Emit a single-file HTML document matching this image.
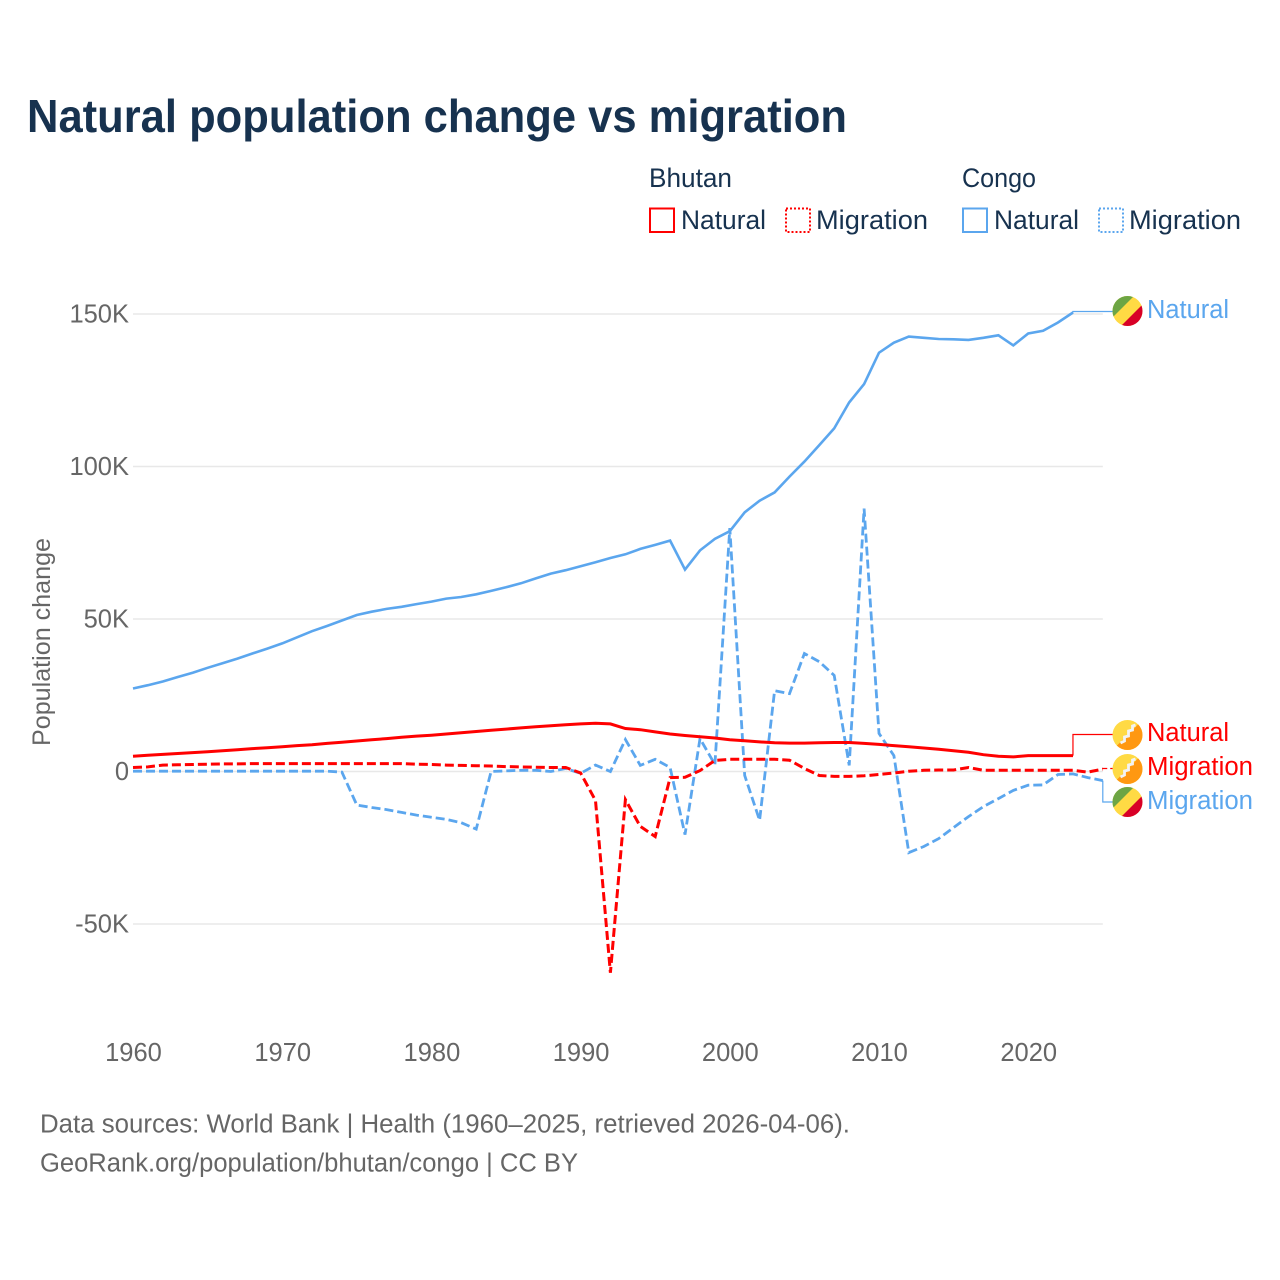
<!DOCTYPE html>
<html lang="en">
<head>
<meta charset="utf-8">
<title>Natural population change vs migration</title>
<style>
html,body{margin:0;padding:0;background:#fff;}
svg{display:block;}
text{font-family:"Liberation Sans",sans-serif;}
</style>
</head>
<body>
<svg id="chart" xmlns="http://www.w3.org/2000/svg" width="1280" height="1280" viewBox="0 0 1280 1280">
<defs>
<clipPath id="flag-clip"><circle cx="0" cy="0" r="15"/></clipPath>
</defs>
<rect x="0" y="0" width="1280" height="1280" fill="#fff"/>
<text x="27" y="132" font-size="46" font-weight="700" fill="#17324f" textLength="820" lengthAdjust="spacingAndGlyphs">Natural population change vs migration</text>

<g font-size="26.5" fill="#17324f">
<text x="649" y="187" textLength="83" lengthAdjust="spacingAndGlyphs">Bhutan</text>
<text x="962" y="187" textLength="74" lengthAdjust="spacingAndGlyphs">Congo</text>
<g>
<rect x="650" y="208.5" width="24" height="23.5" fill="none" stroke="#ff0000" stroke-width="2"/>
<text x="681" y="229" textLength="85" lengthAdjust="spacingAndGlyphs">Natural</text>
</g>
<g>
<rect x="786" y="208.5" width="24" height="23.5" fill="none" stroke="#ff0000" stroke-width="2" stroke-dasharray="2 2"/>
<text x="816" y="229" textLength="112" lengthAdjust="spacingAndGlyphs">Migration</text>
</g>
<g>
<rect x="963" y="208.5" width="24" height="23.5" fill="none" stroke="#5ba6ee" stroke-width="2"/>
<text x="994" y="229" textLength="85" lengthAdjust="spacingAndGlyphs">Natural</text>
</g>
<g>
<rect x="1099" y="208.5" width="24" height="23.5" fill="none" stroke="#5ba6ee" stroke-width="2" stroke-dasharray="2 2"/>
<text x="1129" y="229" textLength="112" lengthAdjust="spacingAndGlyphs">Migration</text>
</g>
</g>

<g id="grid"></g>
<g id="y-axis"></g>
<g id="x-axis"></g>
<text transform="translate(50,642) rotate(-90)" text-anchor="middle" font-size="25" fill="#666" textLength="208" lengthAdjust="spacingAndGlyphs">Population change</text>
<g id="series"></g>
<g id="connectors"></g>

<g transform="translate(1127.5,311)">
<g clip-path="url(#flag-clip)"><rect x="-15" y="-15" width="30" height="30" fill="#ffda44"/><polygon points="-15,6.5 6.5,-15 -15,-15" fill="#6da544"/><polygon points="15,15 15,-6.5 -6.5,15" fill="#d80027"/></g>
</g>
<g transform="translate(1127.5,735)">
<g clip-path="url(#flag-clip)"><rect x="-15" y="-15" width="30" height="30" fill="#ffda44"/><polygon points="15,-15 15,15 -15,15" fill="#ff9811"/><polyline points="-7,8 -3,6 -3,2 1,1 1,-4 5,-5 5,-9 8,-10" fill="none" stroke="#f3f3f3" stroke-width="2.8"/></g>
</g>
<g transform="translate(1127.5,769)">
<g clip-path="url(#flag-clip)"><rect x="-15" y="-15" width="30" height="30" fill="#ffda44"/><polygon points="15,-15 15,15 -15,15" fill="#ff9811"/><polyline points="-7,8 -3,6 -3,2 1,1 1,-4 5,-5 5,-9 8,-10" fill="none" stroke="#f3f3f3" stroke-width="2.8"/></g>
</g>
<g transform="translate(1127.5,802)">
<g clip-path="url(#flag-clip)"><rect x="-15" y="-15" width="30" height="30" fill="#ffda44"/><polygon points="-15,6.5 6.5,-15 -15,-15" fill="#6da544"/><polygon points="15,15 15,-6.5 -6.5,15" fill="#d80027"/></g>
</g>

<text x="1147" y="318" font-size="25.5" fill="#5ba6ee" textLength="82" lengthAdjust="spacingAndGlyphs">Natural</text>
<text x="1147" y="741" font-size="25.5" fill="#ff0000" textLength="82" lengthAdjust="spacingAndGlyphs">Natural</text>
<text x="1147" y="775" font-size="25.5" fill="#ff0000" textLength="106" lengthAdjust="spacingAndGlyphs">Migration</text>
<text x="1147" y="809" font-size="25.5" fill="#5ba6ee" textLength="106" lengthAdjust="spacingAndGlyphs">Migration</text>

<text x="40" y="1132.5" font-size="25.5" fill="#666" textLength="810" lengthAdjust="spacingAndGlyphs">Data sources: World Bank | Health (1960–2025, retrieved 2026-04-06).</text>
<text x="40" y="1171.5" font-size="25.5" fill="#666" textLength="538" lengthAdjust="spacingAndGlyphs">GeoRank.org/population/bhutan/congo | CC BY</text>
</svg>
<script>
const years = [1960,1961,1962,1963,1964,1965,1966,1967,1968,1969,1970,1971,1972,1973,1974,1975,1976,1977,1978,1979,1980,1981,1982,1983,1984,1985,1986,1987,1988,1989,1990,1991,1992,1993,1994,1995,1996,1997,1998,1999,2000,2001,2002,2003,2004,2005,2006,2007,2008,2009,2010,2011,2012,2013,2014,2015,2016,2017,2018,2019,2020,2021,2022,2023,2024,2025];
const congoNatural = [27200,28300,29500,31000,32400,34000,35500,37000,38700,40300,42000,44000,46000,47700,49500,51300,52400,53300,54000,54900,55700,56700,57200,58100,59200,60400,61700,63300,64900,66000,67300,68600,70000,71200,73000,74300,75700,66200,72500,76300,78800,85000,88800,91500,96700,101600,107000,112500,121000,127000,137300,140600,142600,142200,141800,141700,141500,142200,143000,139700,143600,144500,147200,150500,null,null];
const congoMigration = [100,100,100,100,100,100,100,100,100,100,100,100,100,100,-200,-11000,-11800,-12500,-13400,-14300,-15000,-15700,-16800,-18900,0,200,400,400,0,1000,-600,2100,0,10500,2000,4000,1300,-20700,10800,2300,79800,-1300,-16000,26500,25500,38700,36000,31500,2000,86200,12500,5200,-26600,-24600,-22000,-18400,-14800,-11500,-8900,-6200,-4500,-4400,-1000,-800,-2000,-3000];
const bhutanNatural = [5000,5300,5600,5900,6200,6500,6800,7100,7500,7800,8100,8500,8800,9200,9600,10000,10400,10800,11200,11600,11900,12300,12700,13100,13500,13900,14300,14700,15000,15300,15600,15800,15600,14100,13700,13000,12300,11800,11400,11000,10400,10100,9700,9400,9300,9300,9400,9500,9500,9200,8900,8500,8100,7700,7300,6800,6300,5500,5000,4800,5200,5200,5200,5200,null,null];
const bhutanMigration = [1300,1500,2100,2200,2300,2400,2500,2500,2600,2600,2600,2600,2600,2600,2600,2600,2600,2600,2600,2400,2300,2100,2000,1900,1800,1600,1500,1400,1300,1300,-500,-9500,-66000,-9200,-18000,-21300,-2000,-1900,300,3600,4000,4000,4000,4000,3700,1000,-1300,-1600,-1600,-1400,-1000,-500,100,400,500,500,1300,400,400,400,400,400,400,400,-200,800];
const yTicks = [150000,100000,50000,0,-50000];
const yTickLabels = ["150K","100K","50K","0","-50K"];
const xTicks = [1960,1970,1980,1990,2000,2010,2020];

const SVG_NS = "http://www.w3.org/2000/svg";
const xScale = function (year) { return 133 + (year - 1960) * 14.92; };
const yScale = function (value) { return 771.5 - value * 0.00305; };

function make(tag, attrs, parent) {
  const el = document.createElementNS(SVG_NS, tag);
  for (const k in attrs) el.setAttribute(k, attrs[k]);
  parent.appendChild(el);
  return el;
}

const gridGroup = document.getElementById("grid");
const yAxisGroup = document.getElementById("y-axis");
yTicks.forEach(function (tick, i) {
  const line = make("line", {x1: xScale(1960), x2: xScale(2025), y1: yScale(tick), y2: yScale(tick), stroke: "#e8e8e8", "stroke-width": 1.5}, gridGroup);
  
  
  const label = make("text", {x: 129, y: yScale(tick) + 8.5, "text-anchor": "end", "font-size": 25.5, fill: "#666"}, yAxisGroup);
  
  
  label.textContent = yTickLabels[i];
});

const xAxisGroup = document.getElementById("x-axis");
xTicks.forEach(function (tick) {
  const label = make("text", {x: xScale(tick) + 0.5, y: 1061, "text-anchor": "middle", "font-size": 25.5, fill: "#666"}, xAxisGroup);
  
  
  label.textContent = tick;
});

function linePoints(values) {
  const pts = [];
  values.forEach(function (v, i) {
    if (v !== null) pts.push([xScale(years[i]), yScale(v)]);
  });
  return pts;
}
function toD(pts) {
  return pts.map(function (p, i) { return (i ? "L" : "M") + p[0].toFixed(1) + " " + p[1].toFixed(1); }).join("");
}

const seriesGroup = document.getElementById("series");
const connectorGroup = document.getElementById("connectors");
const RED = "#ff0000";
const BLUE = "#5ba6ee";

const congoMigrationLine = make("path", {d: toD(linePoints(congoMigration)), fill: "none", stroke: BLUE, "stroke-width": 2.8, "stroke-dasharray": "9 4", "stroke-linejoin": "miter"}, seriesGroup);


const congoNaturalLine = make("path", {d: toD(linePoints(congoNatural)), fill: "none", stroke: BLUE, "stroke-width": 2.6}, seriesGroup);


const bhutanMigrationLine = make("path", {d: toD(linePoints(bhutanMigration)), fill: "none", stroke: RED, "stroke-width": 3, "stroke-dasharray": "9 4"}, seriesGroup);


const bhutanNaturalLine = make("path", {d: toD(linePoints(bhutanNatural)), fill: "none", stroke: RED, "stroke-width": 3}, seriesGroup);



function connector(values, labelY, color, dash) {
  const pts = linePoints(values);
  const end = pts[pts.length - 1];
  const path = make("path", {d: "M" + end[0] + " " + end[1] + "V" + labelY + "H1113", fill: "none", stroke: color, "stroke-width": 1.2}, connectorGroup);
  if (dash) path.setAttribute("stroke-dasharray", dash);
  return path;
}
const connCongoNatural = connector(congoNatural, 311.5, BLUE);


const connBhutanNatural = connector(bhutanNatural, 734.5, RED);


const connBhutanMigration = connector(bhutanMigration, 768.5, RED, "5 3");


const connCongoMigration = connector(congoMigration, 802, BLUE);


</script>
</body>
</html>
